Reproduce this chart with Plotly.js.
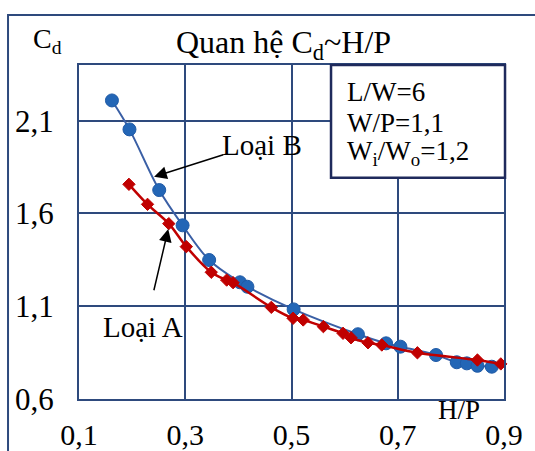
<!DOCTYPE html>
<html>
<head>
<meta charset="utf-8">
<script src="https://cdn.plot.ly/plotly-3.0.1.min.js"></script>
<style>
  html, body { margin: 0; padding: 0; background: #ffffff; }
  #chart { width: 535px; height: 451px; }
</style>
</head>
<body>
<div id="chart"></div>
<script>
// ---- Data ----
const seriesNames = ["Loại B", "Loại A"];
const xB = [0.162, 0.195, 0.251, 0.295, 0.345, 0.403, 0.417, 0.504, 0.625, 0.678, 0.705, 0.772, 0.811, 0.830, 0.850, 0.877];
const yB = [2.209, 2.053, 1.726, 1.536, 1.349, 1.229, 1.205, 1.083, 0.949, 0.900, 0.882, 0.837, 0.798, 0.792, 0.779, 0.774];
const xA = [0.194, 0.229, 0.269, 0.302, 0.349, 0.378, 0.390, 0.462, 0.503, 0.522, 0.560, 0.597, 0.612, 0.644, 0.670, 0.737, 0.850, 0.894];
const yA = [1.757, 1.649, 1.545, 1.421, 1.283, 1.241, 1.227, 1.094, 1.035, 1.026, 0.990, 0.954, 0.930, 0.903, 0.891, 0.849, 0.810, 0.789];
const xTicks = [0.1, 0.3, 0.5, 0.7, 0.9];
const yTicks = [0.6, 1.1, 1.6, 2.1];
const infoLines = ["L/W=6", "W/P=1,1", "W<sub>i</sub>/W<sub>o</sub>=1,2"];
// arrow targets (data coords) for the series labels
const arrowB = [0.2413, 1.798];
const arrowA = [0.268, 1.516];

const FONT = "'Liberation Serif', 'Times New Roman', serif";
const GRID = "#2E4A7D";
const BLUE_M = "#2366B6";
const BLUE_L = "#3A5FA5";
const RED = "#C00000";

const traces = [
  {
    x: xB, y: yB, name: seriesNames[0], type: "scatter", mode: "lines+markers",
    line: { color: BLUE_L, width: 2, shape: "spline", smoothing: 1 },
    marker: { symbol: "circle", size: 13, color: BLUE_M, line: { color: "#1F5AA6", width: 1 } },
    cliponaxis: false
  },
  {
    x: xA, y: yA, name: seriesNames[1], type: "scatter", mode: "lines+markers",
    line: { color: RED, width: 2.5, shape: "spline", smoothing: 1 },
    marker: { symbol: "diamond", size: 9.5, color: RED, line: { color: RED, width: 1 } },
    cliponaxis: false
  }
];

const annotations = [
  { xref: "paper", yref: "paper", x: -0.112, y: 1.072, xanchor: "left", yanchor: "middle",
    text: "C<sub>d</sub>", showarrow: false, font: { family: FONT, size: 28, color: "#000" } },
  { xref: "paper", yref: "paper", x: 0.84, y: -0.033, xanchor: "left", yanchor: "middle",
    text: "H/P", showarrow: false, font: { family: FONT, size: 27, color: "#000" } },
  { xref: "x", yref: "y", x: 0.365, y: 1.969, xanchor: "left", yanchor: "middle",
    text: seriesNames[0], showarrow: false, font: { family: FONT, size: 29, color: "#000" } },
  { xref: "x", yref: "y", x: 0.1422, y: 0.988, xanchor: "left", yanchor: "middle",
    text: seriesNames[1], showarrow: false, font: { family: FONT, size: 29, color: "#000" } },
  { xref: "x", yref: "y", x: arrowB[0], y: arrowB[1], ax: 70.7, ay: -22.4, text: "",
    showarrow: true, arrowhead: 2, arrowsize: 1.7, arrowwidth: 1.5, arrowcolor: "#000" },
  { xref: "x", yref: "y", x: arrowA[0], y: arrowA[1], ax: -14.7, ay: 62.7, text: "",
    showarrow: true, arrowhead: 2, arrowsize: 1.7, arrowwidth: 1.5, arrowcolor: "#000" }
];
const infoY = [0.920, 0.8254, 0.7356];
infoLines.forEach((t, i) => {
  annotations.push({ xref: "paper", yref: "paper", x: 0.626, y: infoY[i], xanchor: "left", yanchor: "middle",
    text: t, showarrow: false, font: { family: FONT, size: 27, color: "#000" } });
});

const shapes = [
  // outer frame (left & top edges visible)
  { type: "path", xref: "paper", yref: "paper", path: "M -0.167 -0.6 L -0.167 1.1497 L 1.5 1.1497",
    line: { color: GRID, width: 2 }, layer: "above" },
  // info box
  { type: "rect", xref: "paper", yref: "paper", x0: 0.593, x1: 1.0024, y0: 0.6626, y1: 1.0,
    fillcolor: "#ffffff", line: { color: "#1F2A5C", width: 2.5 }, layer: "above" }
];

const layout = {
  width: 535, height: 451,
  margin: { l: 79, r: 31, t: 65, b: 52 },
  paper_bgcolor: "#ffffff", plot_bgcolor: "#ffffff",
  separators: ", ",
  showlegend: false,
  font: { family: FONT, color: "#000" },
  title: {
    text: "Quan hệ C<sub>d</sub>~H/P",
    x: 0.53, xanchor: "center", xref: "container",
    y: 0.907, yanchor: "middle", yref: "container",
    font: { family: FONT, size: 32, color: "#000" }
  },
  xaxis: {
    range: [0.1, 0.9], tickvals: xTicks, tickformat: ".1f",
    showgrid: true, gridcolor: GRID, gridwidth: 2,
    showline: true, linecolor: GRID, linewidth: 2, mirror: true,
    zeroline: false, ticks: "", ticklabelstandoff: 8,
    tickfont: { family: FONT, size: 30, color: "#000" }
  },
  yaxis: {
    range: [0.6, 2.4], tickvals: yTicks, tickformat: ".1f",
    showgrid: true, gridcolor: GRID, gridwidth: 2,
    showline: true, linecolor: GRID, linewidth: 2, mirror: true,
    zeroline: false, ticks: "", ticklabelstandoff: 17,
    tickfont: { family: FONT, size: 31, color: "#000" }
  },
  annotations: annotations,
  shapes: shapes
};

Plotly.newPlot("chart", traces, layout, { displayModeBar: false, staticPlot: true });
</script>
</body>
</html>
